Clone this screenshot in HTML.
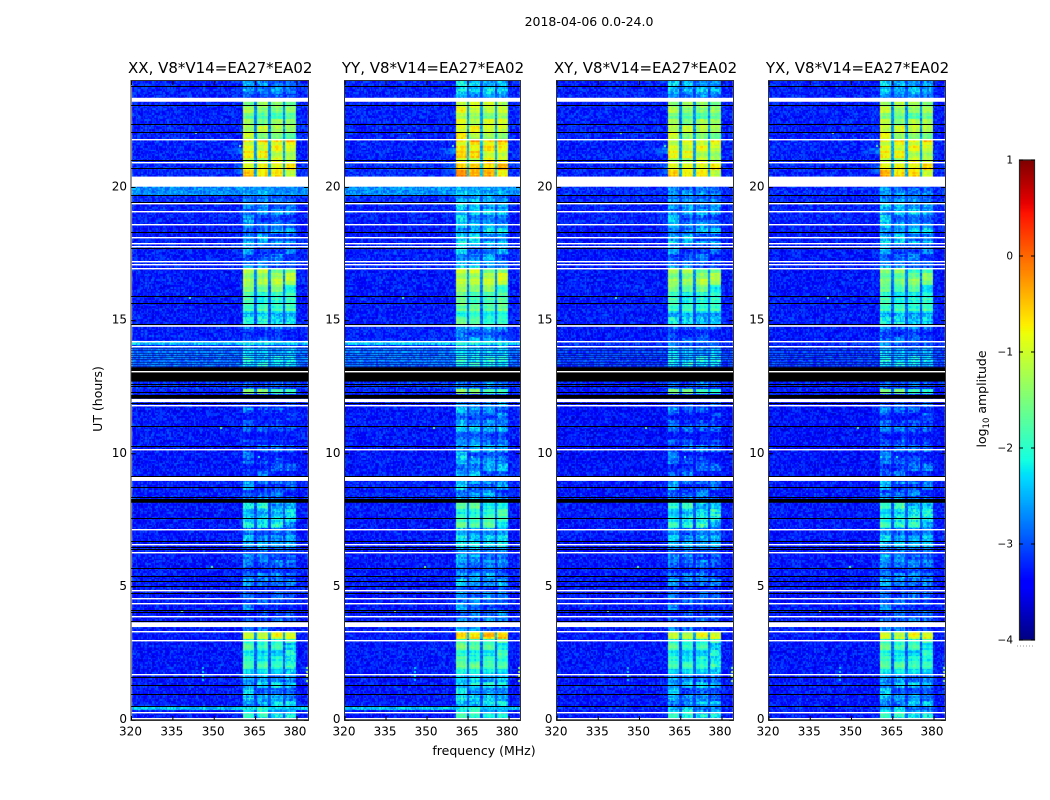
<!DOCTYPE html>
<html>
<head>
<meta charset="utf-8">
<title>2018-04-06 spectrogram</title>
<style>
html,body{margin:0;padding:0;background:#fff;width:1050px;height:800px;overflow:hidden}
#chart{position:relative;width:1050px;height:800px}
canvas{position:absolute;display:block}
svg{position:absolute;left:0;top:0}
text{font-family:"DejaVu Sans","Liberation Sans",sans-serif;fill:#000}
</style>
</head>
<body>
<div id="chart">
<canvas id="cv0"></canvas>
<canvas id="cv1"></canvas>
<canvas id="cv2"></canvas>
<canvas id="cv3"></canvas>
<canvas id="cvbar"></canvas>
<svg id="ov" width="1050" height="800" xmlns="http://www.w3.org/2000/svg"></svg>
</div>
<script>
var panelTitles = ["XX, V8*V14=EA27*EA02","YY, V8*V14=EA27*EA02","XY, V8*V14=EA27*EA02","YX, V8*V14=EA27*EA02"];
var panelKeys = ["xx","yy","xy","yx"];
var freqTicks = [320,335,350,365,380];
var hourTicks = [0,5,10,15,20];
var colorTicks = [1,0,-1,-2,-3,-4];
var colorTickLabels = ["1","0","\u22121","\u22122","\u22123","\u22124"];

/* time segments: start hour of each block */
var segmentStarts = [0,0.33,0.55,1,1.75,3.05,3.33,5,6.3,7.2,8.3,9,10.3,12,12.25,12.45,13.25,14,14.1,14.25,14.85,15.3,15.9,16.3,17,17.9,18.6,19.4,19.7,20.03,20.41,21,21.75,21.85,22.4,23.3];

/* log10 amplitude inside the 360-380 MHz band, per time segment */
var xxBand = [-2.2,-2.3,-2.55,-2.65,-2.1,-0.9,-3.1,-3.0,-2.75,-2.35,-2.95,-3.15,-3.25,-3.3,-1.7,-3.15,-2.3,-3.15,-2.3,-3.05,-2.3,-2.05,-1.8,-1.3,-2.95,-2.75,-2.85,-2.6,-2.9,-1.0,-0.9,-1.0,-0.45,-1.35,-1.55,-2.9];
var yyBand = [-2.1,-2.3,-2.4,-2.45,-1.95,-0.5,-2.85,-2.8,-2.45,-1.95,-2.75,-2.7,-2.75,-3.05,-1.7,-2.95,-2.2,-2.85,-2.2,-2.75,-1.95,-1.85,-1.65,-1.2,-2.65,-2.45,-2.55,-2.35,-2.75,-0.9,-0.6,-0.85,-0.35,-1.05,-1.15,-2.5];
var xyBand = [-2.2,-2.65,-2.7,-2.75,-2.15,-0.95,-3.1,-3.0,-2.7,-2.25,-2.95,-3.1,-3.15,-3.25,-1.8,-3.1,-2.35,-3.15,-2.95,-3.05,-2.45,-2.1,-1.9,-1.4,-2.95,-2.65,-2.75,-2.55,-2.95,-1.0,-0.95,-1.1,-0.85,-1.3,-1.5,-2.65];
var yxBand = [-2.2,-2.65,-2.65,-2.75,-2.05,-0.9,-3.0,-2.9,-2.65,-2.2,-2.9,-3.05,-3.1,-3.25,-1.8,-3.1,-2.4,-3.15,-2.95,-2.95,-2.4,-2.1,-2.0,-1.6,-2.9,-2.55,-2.65,-2.55,-2.95,-1.0,-0.85,-1.05,-0.6,-1.2,-1.4,-2.65];

/* log10 amplitude outside the band, per time segment */
var xxBack = [-3.3,-2.45,-3.3,-3.3,-3.3,-3.3,-3.3,-3.3,-3.3,-3.3,-3.25,-3.3,-3.3,-3.3,-3.25,-3.15,-2.85,-3.2,-2.4,-3.25,-3.3,-3.3,-3.3,-3.3,-3.25,-3.3,-3.25,-3.2,-2.7,-3.2,-3.2,-3.25,-3.2,-3.25,-3.25,-3.25];
var yyBack = [-3.3,-2.45,-3.3,-3.3,-3.3,-3.3,-3.3,-3.3,-3.3,-3.3,-3.25,-3.3,-3.3,-3.3,-3.25,-3.15,-2.85,-3.2,-2.4,-3.25,-3.3,-3.3,-3.3,-3.3,-3.25,-3.3,-3.25,-3.2,-2.7,-3.2,-3.2,-3.25,-3.2,-3.25,-3.25,-3.25];
var xyBack = [-3.3,-3.2,-3.3,-3.3,-3.3,-3.3,-3.3,-3.3,-3.3,-3.3,-3.3,-3.35,-3.35,-3.3,-3.3,-3.25,-3.1,-3.25,-3.15,-3.3,-3.3,-3.3,-3.3,-3.3,-3.3,-3.3,-3.25,-3.25,-3.2,-3.2,-3.25,-3.25,-3.25,-3.25,-3.25,-3.25];
var yxBack = [-3.3,-3.2,-3.3,-3.3,-3.3,-3.3,-3.3,-3.3,-3.3,-3.3,-3.3,-3.35,-3.35,-3.3,-3.3,-3.25,-3.1,-3.25,-3.15,-3.3,-3.3,-3.3,-3.3,-3.3,-3.3,-3.3,-3.25,-3.25,-3.2,-3.2,-3.25,-3.25,-3.25,-3.25,-3.25,-3.25];

/* the four sub-bands, MHz, and each panel's relative level */
var subBandStart = [360.4,365.4,370.6,375.4];
var subBandEnd = [364.6,369.7,374.8,379.6];
var xxSub = [0.05,-0.02,-0.05,-0.12];
var yySub = [0.08,-0.02,-0.06,-0.1];
var xySub = [0.08,-0.02,-0.03,-0.1];
var yxSub = [0.1,-0.02,-0.06,-0.1];

/* faint interference left of the band: hours and level */
var shoulderStart = [20.5,21.25];
var shoulderEnd = [20.85,21.5];
var shoulderLevel = [-2.85,-2.75];

/* small-scale structure as log10 deviations */
var grainValues = [0.21,-0.18,0.05,-0.29,0.33,-0.07,0.14,-0.22,0.02,0.27,-0.13,-0.31,0.18,0.08,-0.24,0.36,-0.04,-0.16,0.11,0.25,-0.27,0.03,-0.1,0.3,-0.2,0.16,-0.34,0.07,0.22,-0.12,-0.02,0.38,-0.26,0.12,-0.15,0.19,-0.06,-0.3,0.28,0.01,-0.19,0.24,-0.09,0.15,-0.28,0.34,-0.03,-0.23,0.09,0.2,-0.14,0.04,-0.33,0.26,-0.11,0.17,-0.21,0.31,0,-0.25,0.13,0.06,-0.17,0.29,-0.08,-0.32,0.23,0.1,-0.05,0.37,-0.2,0.14,-0.27,0.04,0.18,-0.16,0.32,-0.01,-0.12,0.08,-0.3,0.2,0.11,-0.22,0.27,-0.06,0.16,-0.35,0.05,0.25,-0.18,0.12,-0.09,0.3,-0.24,0.02,0.19];
var rowRipple = [0.12,-0.15,0.05,0.2,-0.1,-0.22,0.08,0.16,-0.05,-0.18,0.22,0,-0.12,0.14,-0.2,0.1,0.03,-0.08,0.18,-0.14,0.07,-0.03,0.24];
var bandRipple = [0.18,-0.05,-0.28,0.1,0.25,-0.15,0.02,-0.32,0.2,0.08,-0.2,0.3,-0.1,-0.25,0.15,0.05,-0.3,0.22,-0.02,0.12,-0.18,0.28,-0.08,-0.22,0.1,0.2,-0.35,0.06,0.16,-0.12,0.24,-0.06,-0.26,0.14,0.04,-0.16,0.3];
var channelShape = [0.1,0.2,0.12,-0.05,0.05,0.15,-0.02,-0.12];

/* isolated hot channels: MHz, hour, log10 amplitude */
var spotFreq = [383.4,383.4,383.4,383.4,345.4,345.4,345.4,345.4,366,352,338,343,359,349,341];
var spotHour = [1.5,1.7,1.85,2.0,1.55,1.7,1.85,2.0,9.9,11.0,4.1,22.1,21.6,5.8,15.9];
var spotLevel = [-1.3,-1.0,-1.2,-1.5,-2.3,-2.2,-2.2,-2.3,-2.0,-1.6,-1.4,-1.5,-1.7,-1.6,-1.7];

/* flagged (blank) time ranges, hours */
var whiteStart = [23.22,20.03,14.77,11.94,8.98,3.49];
var whiteEnd = [23.37,20.41,14.83,12.06,9.14,3.67];
var whiteLines = [21.81,20.96,19.40,19.10,18.62,18.13,17.91,17.81,17.25,17.13,16.99,14.22,14.03,13.11,11.82,10.17,7.16,6.60,6.31,4.87,4.57,4.38,3.91,3.33,3.02,1.74,0.31,0.08];
var blackStart = [12.71,12.07,8.16,-0.02];
var blackEnd = [13.25,12.21,8.30,0.03];
var blackLines = [23.81,23.10,22.37,22.07,21.03,20.72,19.71,19.47,18.34,17.72,15.94,15.65,14.89,12.62,12.55,12.32,11.92,11.03,10.28,9.16,8.76,8.39,7.57,6.73,6.51,6.43,5.70,5.40,5.22,5.02,4.76,4.13,4.06,3.72,3.35,1.63,1.30,0.96,0.53];
var stripeLines = [13.29,13.37,13.46,13.54,13.63,13.71,13.80,13.88,13.96];

var panelLefts = [131.5,345,557,769];
var panelWidths = [176.5,175,176,176];
var panelTop = 81, panelBottom = 720;
var NS = "http://www.w3.org/2000/svg";
var ov = document.getElementById("ov");

function xAt(p, f){ return panelLefts[p] + (f - 320) / 64 * panelWidths[p]; }
function yAt(h){ return panelBottom - h / 24 * (panelBottom - panelTop); }
function interp(pts, t){
  for (var i = 1; i < pts.length; i++) {
    if (t <= pts[i][0]) {
      return pts[i-1][1] + (pts[i][1] - pts[i-1][1]) * (t - pts[i-1][0]) / (pts[i][0] - pts[i-1][0]);
    }
  }
  return pts[pts.length-1][1];
}
var jetR = [[0,0],[0.35,0],[0.66,1],[0.89,1],[1,0.5]];
var jetG = [[0,0],[0.125,0],[0.375,1],[0.64,1],[0.91,0],[1,0]];
var jetB = [[0,0.5],[0.11,1],[0.34,1],[0.65,0],[1,0]];
function jet(v){
  var t = Math.max(0, Math.min(1, (v + 4) / 5));
  return "rgb(" + Math.round(255*interp(jetR,t)) + "," + Math.round(255*interp(jetG,t)) + "," + Math.round(255*interp(jetB,t)) + ")";
}
function segmentAt(h){
  var s = 0;
  for (var i = 0; i < segmentStarts.length; i++) { if (h >= segmentStarts[i]) s = i; }
  return s;
}
function addRect(x, y, w, h, fill){
  var r = document.createElementNS(NS, "rect");
  r.setAttribute("x", x);
  r.setAttribute("y", y);
  r.setAttribute("width", w);
  r.setAttribute("height", h);
  r.setAttribute("fill", fill);
  ov.appendChild(r);
  return r;
}
function addLine(x1, y1, x2, y2, color){
  var l = document.createElementNS(NS, "line");
  l.setAttribute("x1", x1);
  l.setAttribute("y1", y1);
  l.setAttribute("x2", x2);
  l.setAttribute("y2", y2);
  l.setAttribute("stroke", color);
  l.setAttribute("stroke-width", "1");
  ov.appendChild(l);
  return l;
}
function addText(x, y, str, size, anchor){
  var t = document.createElementNS(NS, "text");
  t.setAttribute("x", x);
  t.setAttribute("y", y);
  t.setAttribute("font-size", size);
  t.setAttribute("text-anchor", anchor);
  t.textContent = str;
  ov.appendChild(t);
  return t;
}

var bandSets = [xxBand, yyBand, xyBand, yxBand];
var backSets = [xxBack, yyBack, xyBack, yxBack];
var subSets = [xxSub, yySub, xySub, yxSub];
var channelCount = 128, rowCount = 400;

function drawHeatmap(p){
  var cv = document.getElementById("cv" + p);
  var left = panelLefts[p];
  cv.style.left = Math.floor(left) + "px";
  cv.style.top = panelTop + "px";
  cv.width = Math.round(panelWidths[p]) + 1;
  cv.height = panelBottom - panelTop;
  var ctx = cv.getContext("2d");
  var band = bandSets[p], back = backSets[p], sub = subSets[p];
  var ox = Math.floor(left);
  for (var i = 0; i < rowCount; i++) {
    var h0 = i * 24 / rowCount, h1 = (i + 1) * 24 / rowCount, hc = (h0 + h1) / 2;
    var s = segmentAt(hc);
    var ripple = rowRipple[i % rowRipple.length];
    var y0 = Math.round(yAt(h1)) - panelTop, y1 = Math.round(yAt(h0)) - panelTop;
    for (var j = 0; j < channelCount; j++) {
      var f0 = 320 + j * 0.5, fc = f0 + 0.25;
      var grain = grainValues[(i * i * 3 + j * j * 5 + i * j + p * 11) % grainValues.length];
      var v = back[s] + grain + ripple * 0.1;
      for (var q = 0; q < shoulderStart.length; q++) {
        if (hc >= shoulderStart[q] && hc <= shoulderEnd[q] && fc >= 354 && fc < 360.4) {
          v = shoulderLevel[q] + grain * 0.7 - (360.4 - fc) * 0.07;
        }
      }
      if (fc > subBandStart[0] && fc < subBandEnd[3]) {
        v = back[s] + 0.3 * Math.max(0, band[s] - back[s]) + grain * 0.6;
      }
      for (var b = 0; b < 4; b++) {
        if (fc >= subBandStart[b] && fc <= subBandEnd[b]) {
          var level = band[s] + sub[b];
          var gf = level < -2.2 ? 1.0 : 0.45;
          var wave = bandRipple[(Math.floor(i / 4) + b * 3) % bandRipple.length];
          var bv = level + grain * gf + ripple * 0.6 + wave * 1.0 + channelShape[j % 8] * 0.8;
          v = Math.max(bv, back[s] + grain * 0.8);
        }
      }
      var x0 = Math.round(xAt(p, f0)) - ox, x1 = Math.round(xAt(p, f0 + 0.5)) - ox;
      ctx.fillStyle = jet(v);
      ctx.fillRect(x0, y0, x1 - x0, y1 - y0);
    }
  }
  for (var k = 0; k < spotFreq.length; k++) {
    ctx.fillStyle = jet(spotLevel[k]);
    ctx.fillRect(Math.round(xAt(p, spotFreq[k])) - ox, Math.round(yAt(spotHour[k])) - panelTop, 2, 2);
  }
}

function drawPanelOverlay(p){
  var left = panelLefts[p], width = panelWidths[p], right = left + width, key = panelKeys[p];
  var el, k;
  for (k = 0; k < whiteStart.length; k++) {
    el = addRect(left, yAt(whiteEnd[k]), width, yAt(whiteStart[k]) - yAt(whiteEnd[k]), "#fff");
    
    
  }
  for (k = 0; k < blackStart.length; k++) {
    el = addRect(left, yAt(blackEnd[k]), width, yAt(blackStart[k]) - yAt(blackEnd[k]), "#000");
    
    
  }
  for (k = 0; k < blackLines.length; k++) {
    el = addRect(left, Math.round(yAt(blackLines[k])), width, 1, "#000");
    
    
  }
  for (k = 0; k < stripeLines.length; k++) {
    el = addRect(left, Math.round(yAt(stripeLines[k])), width, 1, "#001088");
    el.setAttribute("fill-opacity", "0.6");
    
    
  }
  for (k = 0; k < whiteLines.length; k++) {
    el = addRect(left, Math.round(yAt(whiteLines[k])), width, 1.4, "#fff");
    
    
  }
  el = addRect(left - 0.5, panelTop - 0.5, width + 1, panelBottom - panelTop + 1, "none");
  el.setAttribute("stroke", "#333");
  el.setAttribute("stroke-width", "1");
  
  
  for (k = 0; k < freqTicks.length; k++) {
    var tx = xAt(p, freqTicks[k]);
    el = addLine(tx, panelBottom, tx, panelBottom - 4, "#000");
    
    
    el = addLine(tx, panelTop, tx, panelTop + 4, "#000");
    
    
    el = addText(k === 4 ? tx - 2 : tx - 1, 735.5, String(freqTicks[k]), 12, "middle");
    
    
  }
  for (k = 0; k < hourTicks.length; k++) {
    var ty = yAt(hourTicks[k]);
    el = addLine(left, ty, left + 4, ty, "#000");
    
    
    el = addLine(right, ty, right - 4, ty, "#000");
    
    
    el = addText(left - 4.5, ty + 3, String(hourTicks[k]), 12, "end");
    
    
  }
  el = addText(left + width / 2 + 0.5, 73, panelTitles[p], 15, "middle");
  
  
}

for (var p = 0; p < 4; p++) { drawHeatmap(p); drawPanelOverlay(p); }

/* colorbar */
var barLeft = 1019, barRight = 1035, barTop = 160, barBottom = 640;
function barY(v){ return barBottom - (v + 4) / 5 * (barBottom - barTop); }
(function(){
  var cv = document.getElementById("cvbar");
  cv.style.left = barLeft + "px";
  cv.style.top = barTop + "px";
  cv.width = barRight - barLeft;
  cv.height = barBottom - barTop;
  var ctx = cv.getContext("2d");
  for (var y = 0; y < cv.height; y++) {
    ctx.fillStyle = jet(1 - y / cv.height * 5);
    ctx.fillRect(0, y, cv.width, 1);
  }
  var el = addRect(barLeft + 0.5, barTop, barRight - barLeft - 1, barBottom - barTop, "none");
  el.setAttribute("stroke", "#222");
  el.setAttribute("stroke-width", "1.2");
  
  
  for (var k = 0; k < colorTicks.length; k++) {
    var ty = barY(colorTicks[k]);
    el = addLine(barLeft, ty, barLeft + 4, ty, "#000");
    
    
    el = addLine(barRight, ty, barRight - 4, ty, "#000");
    
    
    el = addText(1013, ty + 3.5, colorTickLabels[k], 10.5, "end");
    
    
  }
  var d = addLine(1017, 646, 1035, 646, "#999");
  d.setAttribute("stroke-dasharray", "1 2");
  
  
})();

var lab;
lab = addText(589, 26, "2018-04-06 0.0-24.0", 12.5, "middle");


lab = addText(484, 755, "frequency (MHz)", 12.5, "middle");


lab = addText(0, 0, "UT (hours)", 12.5, "middle");
lab.setAttribute("transform", "translate(102,399) rotate(-90)");


lab = addText(0, 0, "", 12.5, "middle");
lab.setAttribute("transform", "translate(986,399) rotate(-90)");


var t1 = document.createElementNS(NS, "tspan");
t1.textContent = "log";
lab.appendChild(t1);
var t2 = document.createElementNS(NS, "tspan");
t2.setAttribute("font-size", "8.5");
t2.setAttribute("dy", "3");
t2.textContent = "10";
lab.appendChild(t2);
var t3 = document.createElementNS(NS, "tspan");
t3.setAttribute("dy", "-3");
t3.textContent = " amplitude";
lab.appendChild(t3);
</script>
</body>
</html>
